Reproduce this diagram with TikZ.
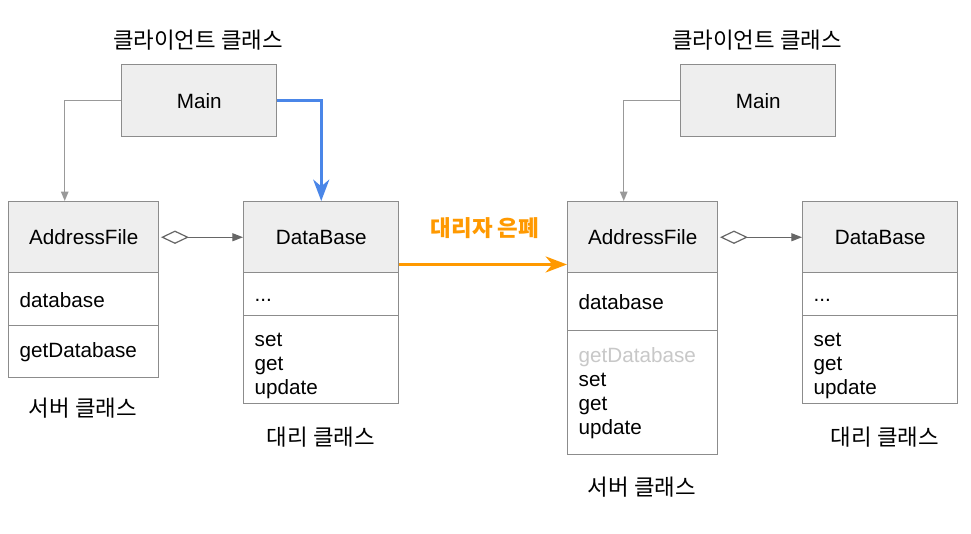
\documentclass[tikz,border=0pt]{standalone}
\usepackage{fontspec}
\setmainfont{Liberation Sans}
\newfontfamily\kr{Noto Sans CJK KR}
\usetikzlibrary{arrows.meta,calc}
\definecolor{bordc}{HTML}{8C8C8C}
\definecolor{hdrc}{HTML}{EEEEEE}
\definecolor{blu}{HTML}{4A86E8}
\definecolor{org}{HTML}{FF9900}
\definecolor{lnc}{HTML}{999999}
\definecolor{aggc}{HTML}{666666}
\definecolor{dimc}{HTML}{C8C8C8}
\begin{document}
\begin{tikzpicture}[x=0.75pt,y=-0.75pt,
  sec/.style={draw=bordc, line width=1.1pt, anchor=north west, inner ysep=0pt,
    font=\fontsize{15.5}{18}\selectfont},
  hdr/.style={sec, fill=hdrc, align=center, inner xsep=0pt, minimum height=53.25pt},
  body/.style={sec, fill=white, align=left, inner xsep=8.25pt},
  narrow/.style={text width=96pt},
  wide/.style={text width=99.75pt},
  krlab/.style={font=\kr\fontsize{16.8}{18}\selectfont, inner sep=0pt},
  conn/.style={lnc, line width=1.1pt, -{Triangle[length=7pt,width=5.5pt]}},
  agg/.style={aggc, line width=0.9pt,
    {Diamond[open,length=21pt,width=10pt,fill=white]}-{Triangle[length=8pt,width=6pt]}},
  callarrow/.style={blu, line width=2.4pt, -{Stealth[length=16pt,width=12pt,inset=5pt]}},
  hidearrow/.style={org, line width=2.4pt, -{Stealth[length=16pt,width=12pt,inset=5pt]}}
]
\useasboundingbox (0,0) rectangle (971,533);

% ---------- left ----------
\node[krlab] (t1) at (198,40) {클라이언트 클래스};
\node[hdr, minimum width=116.25pt, minimum height=54pt] (main1) at (121,64) {Main};

\node[hdr, minimum width=112.5pt] (af1h) at (8,201) {AddressFile};
\node[body, narrow, minimum height=39.75pt] (af1f) at (8,272) {\rule{0pt}{13pt}database};
\node[body, narrow, minimum height=39pt] (af1m) at (8,325) {getDatabase};
\node[krlab] (s1) at (83,408) {서버 클래스};

\node[hdr, minimum width=116.25pt] (db1h) at (243,201) {DataBase};
\node[body, wide, minimum height=32.25pt] (db1f) at (243,272) {\rule{0pt}{11pt}...};
\node[body, wide, minimum height=66pt] (db1m) at (243,315) {\rule{0pt}{20pt}set\\get\\update};
\node[krlab] (p1) at (321,437) {대리 클래스};

\draw[conn] (main1.west) -| ($(af1h.north)+(-19,0)$);
\draw[callarrow] (main1.east) -| (db1h.north);
\draw[agg] ($(af1h.east)+(1.5,0)$) -- (db1h.west);

% ---------- middle ----------
\node[font=\kr\bfseries\fontsize{16.8}{18}\selectfont, text=org, inner sep=0pt] (lab) at (485,228) {대리자 은폐};

% ---------- right ----------
\node[krlab] (t2) at (757,40) {클라이언트 클래스};
\node[hdr, minimum width=116.25pt, minimum height=54pt] (main2) at (680,64) {Main};

\node[hdr, minimum width=112.5pt] (af2h) at (567,201) {AddressFile};
\node[body, narrow, minimum height=43.5pt] (af2f) at (567,272) {database};
\node[body, narrow, minimum height=93pt] (af2m) at (567,330) {\textcolor{dimc}{getDatabase}\\set\\get\\update};
\node[krlab] (s2) at (642,487) {서버 클래스};

\node[hdr, minimum width=116.25pt] (db2h) at (802,201) {DataBase};
\node[body, wide, minimum height=32.25pt] (db2f) at (802,272) {\rule{0pt}{11pt}...};
\node[body, wide, minimum height=66pt] (db2m) at (802,315) {\rule{0pt}{20pt}set\\get\\update};
\node[krlab] (p2) at (885,437) {대리 클래스};

\draw[conn] (main2.west) -| ($(af2h.north)+(-19,0)$);
\draw[agg] ($(af2h.east)+(1.5,0)$) -- (db2h.west);

\draw[hidearrow] ($(db1h.south east)+(0,-9)$) -- ($(af2h.south west)+(0,-9)$);
\end{tikzpicture}
\end{document}
